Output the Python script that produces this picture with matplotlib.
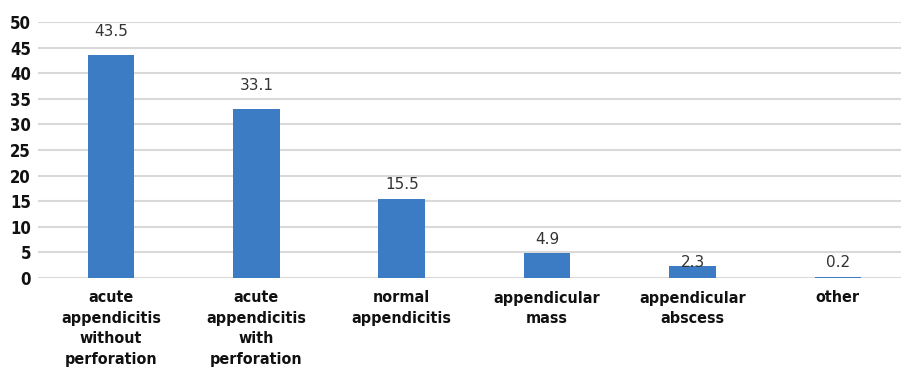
import matplotlib
matplotlib.use('Agg')
import matplotlib.pyplot as plt

# dati
categorie = ['acute\nappendicitis\nwithout\nperforation',
             'acute\nappendicitis\nwith\nperforation',
             'normal\nappendicitis',
             'appendicular\nmass',
             'appendicular\nabscess',
             'other']
valori = [43.5, 33.1, 15.5, 4.9, 2.3, 0.2]
etichette = ['43.5', '33.1', '15.5', '4.9', '2.3', '0.2']

# scostamento verticale (in punti) delle etichette sopra le barre
offset_etichette = [17, 16.5, 10, 10, 3, 10.5]

fig = plt.figure(figsize=(9.01, 3.77), dpi=100)
ax = fig.add_axes([38 / 901, 99 / 377, 863 / 901, 256 / 377])

x = list(range(len(valori)))
ax.bar(x, valori, width=0.32, color='#3B7CC4', zorder=3)

for xi, v, t, off in zip(x, valori, etichette, offset_etichette):
    ax.annotate(t, (xi, v), xytext=(0, off), textcoords='offset points',
                ha='center', va='center', fontsize=11, color='#333333',
                family='DejaVu Sans', zorder=4)

ax.set_ylim(0, 50)
ax.set_xlim(-0.502, 5.434)
ax.set_yticks(range(0, 51, 5))
ax.set_xticks(x)
ax.set_xticklabels(categorie, fontsize=11.5, fontweight='bold',
                   family='DejaVu Sans', fontstretch='condensed',
                   linespacing=1.45, color='#111111')
for lab in ax.get_yticklabels():
    lab.set_fontsize(12)
    lab.set_fontweight('bold')
    lab.set_family('DejaVu Sans')
    lab.set_fontstretch('condensed')
    lab.set_color('#111111')

ax.grid(axis='y', color='#d9d9d9', linewidth=1.5, zorder=0)
ax.tick_params(axis='both', length=0)
ax.tick_params(axis='y', pad=5)
ax.tick_params(axis='x', pad=9)
for s in ax.spines.values():
    s.set_visible(False)

plt.savefig('out.png', dpi=100)
